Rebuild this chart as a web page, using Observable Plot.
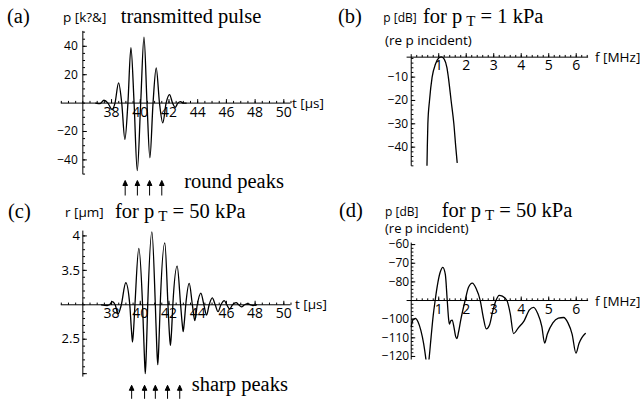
<!DOCTYPE html>
<html><head><meta charset="utf-8">
<script src="https://cdn.jsdelivr.net/npm/d3@7"></script>
<script src="https://cdn.jsdelivr.net/npm/@observablehq/plot@0.6"></script>
<style>
body{margin:0;background:#fff;}
#wrap{position:relative;width:640px;height:403px;overflow:hidden;background:#fff;}
</style></head><body><div id="wrap"></div>
<script>
// ---------- data ----------
// (a) transmitted pulse: time [µs], pressure [kPa]
const pulseTime = [36.9, 37.2, 37.47, 37.75, 38.03, 38.24, 38.49, 38.71, 38.93, 39.14, 39.35, 39.57, 39.79, 40.03, 40.26, 40.47, 40.67, 40.89, 41.11, 41.34, 41.57, 41.8, 42.04, 42.25, 42.43, 42.62, 42.8, 43.0, 43.2];
const pulsePressure = [0, -0.4, 2, 0, -4.5, 0, 14.3, 0, -25.6, 0, 39, 0, -47.5, 0, 46.4, 0, -38.5, 0, 24.8, 0, -13.9, 0, 6, 0, -3, 0, 1, 0, 0];
const roundPeakArrows = [38.95, 39.8, 40.65, 41.5];

// (b) spectrum for p_T = 1 kPa: frequency [MHz], level [dB]
const freq1 = [0.57, 0.585, 0.605, 0.665, 0.76, 0.88, 1.0, 1.1, 1.2, 1.3, 1.35, 1.45, 1.55, 1.62, 1.67];
const level1 = [-50, -40, -30, -20, -10, -4.5, -1.8, -1.3, -2.3, -6, -10, -20, -30, -40, -46.5];

// (c) bubble radius for p_T = 50 kPa: time [µs], radius [µm]
const radiusTime = [37.3, 37.7, 37.85, 38.05, 38.25, 38.46, 38.68, 38.99, 39.27, 39.39, 39.46, 39.53, 39.63, 39.9, 40.16, 40.28, 40.35, 40.42, 40.52, 40.81, 41.05, 41.15, 41.22, 41.29, 41.39, 41.71, 41.93, 42.03, 42.1, 42.17, 42.27, 42.57, 42.81, 42.92, 42.99, 43.06, 43.17, 43.41, 43.63, 43.8, 43.97, 44.22, 44.43, 44.62, 44.8, 45.02, 45.22, 45.42, 45.62, 45.85, 46.03, 46.22, 46.43, 46.68, 46.86, 47.05, 47.27, 47.5, 47.68, 47.85, 48.1];
const radiusValue = [3.0, 2.99, 3.0, 3.045, 3.0, 2.87, 3.0, 3.32, 3.0, 2.62, 2.46, 2.62, 3.0, 3.82, 3.0, 2.3, 2.0, 2.3, 3.0, 4.06, 3.0, 2.39, 2.13, 2.39, 3.0, 3.9, 3.0, 2.58, 2.41, 2.58, 3.0, 3.56, 3.0, 2.73, 2.61, 2.73, 3.0, 3.31, 3.0, 2.77, 3.0, 3.17, 3.0, 2.85, 3.0, 3.1, 3.0, 2.9, 3.0, 3.06, 3.0, 2.94, 3.0, 3.03, 3.0, 2.97, 3.0, 3.015, 3.0, 2.99, 3.0];
const sharpPeakArrows = [39.4, 40.3, 41.05, 41.9, 42.75];

// (d) spectrum for p_T = 50 kPa
const freq50 = [0.0, 0.06, 0.15, 0.25, 0.35, 0.45, 0.53, 0.59, 0.65, 0.72, 0.8, 0.87, 0.95, 1.05, 1.15, 1.24, 1.31, 1.36, 1.39, 1.44, 1.49, 1.55, 1.62, 1.66, 1.72, 1.8, 1.96, 2.08, 2.22, 2.36, 2.51, 2.62, 2.73, 2.85, 2.96, 3.08, 3.2, 3.31, 3.48, 3.6, 3.72, 3.9, 4.1, 4.3, 4.45, 4.6, 4.75, 4.85, 4.95, 5.15, 5.35, 5.54, 5.7, 5.85, 5.99, 6.1, 6.2, 6.33];
const level50 = [-104, -100.5, -99.6, -101.5, -106, -113, -121, -128, -121, -110, -98, -90, -82, -75, -72.2, -76, -90, -100, -102.7, -100.8, -100.5, -104, -109.5, -110.4, -107, -100.5, -90, -83, -80.7, -83.5, -90, -99, -105.2, -103, -96, -90, -87.2, -87.6, -90, -97, -107.7, -104.5, -101, -95, -93.7, -97, -104, -112.8, -108, -102, -99.5, -99.1, -102, -108, -118.2, -113, -110, -107.7];

// tick labels
const timeTicks = [38, 40, 42, 44, 46, 48, 50];
const pressureTicks = [-40, -20, 20, 40];
const freqTicks = [1, 2, 3, 4, 5, 6];
const level1Ticks = [-10, -20, -30, -40];
const radiusTicks = [2.5, 3.5, 4];
const radiusTickLabels = ["2.5", "3.5", "4"];
const level50Ticks = [-60, -70, -80, -100, -110, -120];

// ---------- helpers ----------
const wrap = document.getElementById("wrap");
const SANS = "Open Sans";
const SERIF = "Liberation Serif";
const minus = d => d < 0 ? "\u2212" + Math.abs(d) : String(d);
const tickUp = len => ({draw(ctx){ctx.moveTo(0, 0); ctx.lineTo(0, -len);}});
const tickRight = len => ({draw(ctx){ctx.moveTo(0, 0); ctx.lineTo(len, 0);}});
const upArrow = len => ({draw(ctx){
  ctx.moveTo(0, 0); ctx.lineTo(0, -len + 4);
  ctx.moveTo(-2.3, -len + 5); ctx.lineTo(0, -len); ctx.lineTo(2.3, -len + 5); ctx.closePath();
}});

function axes({x0, y0, xMajor, xMinor, yMajor, yMinor, xLab, yLab, yText, xdy, ydx, xSize, ySize}) {
  const tk = {fill: "none", stroke: "black", strokeWidth: 1, r: 3};
  return [
    Plot.ruleY([y0], {stroke: "black", strokeWidth: 1}),
    Plot.ruleX([x0], {stroke: "black", strokeWidth: 1}),
    Plot.dot(xMinor, {x: d => d, y: y0, symbol: tickUp(2.2), ...tk}),
    Plot.dot(xMajor, {x: d => d, y: y0, symbol: tickUp(4), ...tk}),
    Plot.dot(yMinor, {x: x0, y: d => d, symbol: tickRight(2.2), ...tk}),
    Plot.dot(yMajor, {x: x0, y: d => d, symbol: tickRight(4), ...tk}),
    Plot.text(xLab, {x: d => d, y: y0, dy: xdy, text: minus, fontFamily: SANS, fontSize: xSize, fill: "black"}),
    Plot.text(yLab, {x: x0, y: d => d, dx: ydx, text: yText || minus, textAnchor: "end", fontFamily: SANS, fontSize: ySize, fill: "black"})
  ];
}
function place(svg, left, top) {
  svg.style.position = "absolute";
  svg.style.left = left + "px";
  svg.style.top = top + "px";
  wrap.appendChild(svg);
}
const baseStyle = {background: "transparent", overflow: "visible"};
const rng = (a, b, s) => d3.range(Math.round(a / s), Math.round(b / s) + 1).map(i => +(i * s).toFixed(4));
const arrowStyle = {fill: "black", stroke: "black", strokeWidth: 1, r: 3};

// ---------- (a) ----------
const pulse = pulseTime.map((t, i) => ({t, p: pulsePressure[i]}));
place(Plot.plot({
  width: 330, height: 200,
  marginLeft: 60.8, marginRight: 39.5, marginTop: 30.9, marginBottom: 25.7,
  x: {domain: [34.5, 50.5]}, y: {domain: [-50.5, 50.5]}, axis: null, style: baseStyle,
  marks: [
    ...axes({x0: 36, y0: 0, xMajor: rng(38, 50, 2), xMinor: rng(34.5, 50.5, 0.5),
      yMajor: [-40, -20, 20, 40], yMinor: rng(-50, 50, 5), xLab: timeTicks, yLab: pressureTicks,
      xdy: 9, ydx: -5, xSize: 14, ySize: 12}),
    Plot.line(pulse, {x: "t", y: "p", curve: "monotone-x", stroke: "black", strokeWidth: 1.3, clip: true}),
    Plot.dot(roundPeakArrows, {x: d => d, frameAnchor: "bottom", dy: 20.7, symbol: upArrow(15), ...arrowStyle})
  ]
}), 0, 0);

// ---------- (b) ----------
const spec1 = freq1.map((f, i) => ({f, db: level1[i]}));
place(Plot.plot({
  width: 310, height: 200,
  marginLeft: 76.6, marginRight: 51.9, marginTop: 54.2, marginBottom: 34.2,
  x: {domain: [-0.15, 6.45]}, y: {domain: [-48.2, -0.4]}, axis: null, style: baseStyle,
  marks: [
    ...axes({x0: 0, y0: -1.45, xMajor: rng(1, 6, 1), xMinor: rng(0.2, 6.4, 0.2),
      yMajor: [-10, -20, -30, -40], yMinor: rng(-48, -2, 2), xLab: freqTicks, yLab: level1Ticks,
      xdy: 8, ydx: -3, xSize: 14, ySize: 12}),
    Plot.line(spec1, {x: "f", y: "db", curve: "monotone-x", stroke: "black", strokeWidth: 1.3, clip: true})
  ]
}), 330, 0);

// ---------- (c) ----------
const radius = radiusTime.map((t, i) => ({t, r: radiusValue[i]}));
place(Plot.plot({
  width: 330, height: 203,
  marginLeft: 60.8, marginRight: 39.5, marginTop: 30.6, marginBottom: 26.4,
  x: {domain: [34.5, 50.5]}, y: {domain: [1.95, 4.07]}, axis: null, style: baseStyle,
  marks: [
    ...axes({x0: 36, y0: 3, xMajor: rng(38, 50, 2), xMinor: rng(34.5, 50.5, 0.5),
      yMajor: [2, 2.5, 3.5, 4], yMinor: rng(2, 4, 0.1), xLab: timeTicks, yLab: radiusTicks,
      yText: (d, i) => radiusTickLabels[i], xdy: 9, ydx: -3, xSize: 14, ySize: 13}),
    Plot.line(radius, {x: "t", y: "r", curve: "monotone-x", stroke: "black", strokeWidth: 1.3, clip: true}),
    Plot.dot(sharpPeakArrows, {x: d => d, frameAnchor: "bottom", dy: 21.7, symbol: upArrow(13.5), ...arrowStyle})
  ]
}), 0, 200);

// ---------- (d) ----------
const spec50 = freq50.map((f, i) => ({f, db: level50[i]}));
place(Plot.plot({
  width: 310, height: 203,
  marginLeft: 76.6, marginRight: 51.9, marginTop: 42.6, marginBottom: 43.5,
  x: {domain: [-0.15, 6.45]}, y: {domain: [-121.9, -59.2]}, axis: null, style: baseStyle,
  marks: [
    ...axes({x0: 0, y0: -90, xMajor: rng(1, 6, 1), xMinor: rng(0.2, 6.4, 0.2),
      yMajor: [-60, -70, -80, -100, -110, -120], yMinor: rng(-120, -60, 2), xLab: freqTicks, yLab: level50Ticks,
      xdy: 9, ydx: -2, xSize: 14, ySize: 12}),
    Plot.line(spec50, {x: "f", y: "db", curve: "monotone-x", stroke: "black", strokeWidth: 1.3, clip: true})
  ]
}), 330, 200);

// ---------- titles and labels ----------
const ov = d3.select(wrap).append("svg")
  .attr("width", 640).attr("height", 403)
  .style("position", "absolute").style("left", "0px").style("top", "0px")
  .style("overflow", "visible");
function label(x, y, txt, font, size) {
  return ov.append("text").attr("x", x).attr("y", y).attr("font-family", font)
    .attr("font-size", size).attr("fill", "black").text(txt);
}
function pT(x, y, rest) {
  const t = ov.append("text").attr("x", x).attr("y", y).attr("font-family", SERIF)
    .attr("font-size", 20.5).attr("fill", "black");
  t.append("tspan").text("for p");
  t.append("tspan").attr("font-size", 15).attr("dy", 3).attr("dx", 4).text("T");
  t.append("tspan").attr("dy", -3).text(" = " + rest);
}
// (a)
label(7, 23, "(a)", SERIF, 20.5);
label(63, 21.5, "p [k?&]", SANS, 13.5);
label(120.7, 23.3, "transmitted pulse", SERIF, 20.5);
label(292, 107.5, "t [\u03bcs]", SANS, 13.5);
label(184.3, 187.5, "round peaks", SERIF, 20.5);
// (b)
label(338, 23, "(b)", SERIF, 20.5);
label(383.3, 21.5, "p [dB]", SANS, 12);
pT(423, 23.3, "1 kPa");
label(385, 45, "(re p incident)", SANS, 13.5);
label(595, 61.5, "f [MHz]", SANS, 13.5);
// (c)
label(8, 218.3, "(c)", SERIF, 20.5);
label(65, 216.7, "r [\u03bcm]", SANS, 13.5);
pT(115, 218.3, "50 kPa");
label(295, 309, "t [\u03bcs]", SANS, 13.5);
label(191.7, 390.5, "sharp peaks", SERIF, 20.5);
// (d)
label(339, 217, "(d)", SERIF, 20.5);
label(385, 215.5, "p [dB]", SANS, 12);
pT(441.7, 216.5, "50 kPa");
label(385, 232.5, "(re p incident)", SANS, 13);
label(595, 305.5, "f [MHz]", SANS, 13.5);
</script></body></html>
